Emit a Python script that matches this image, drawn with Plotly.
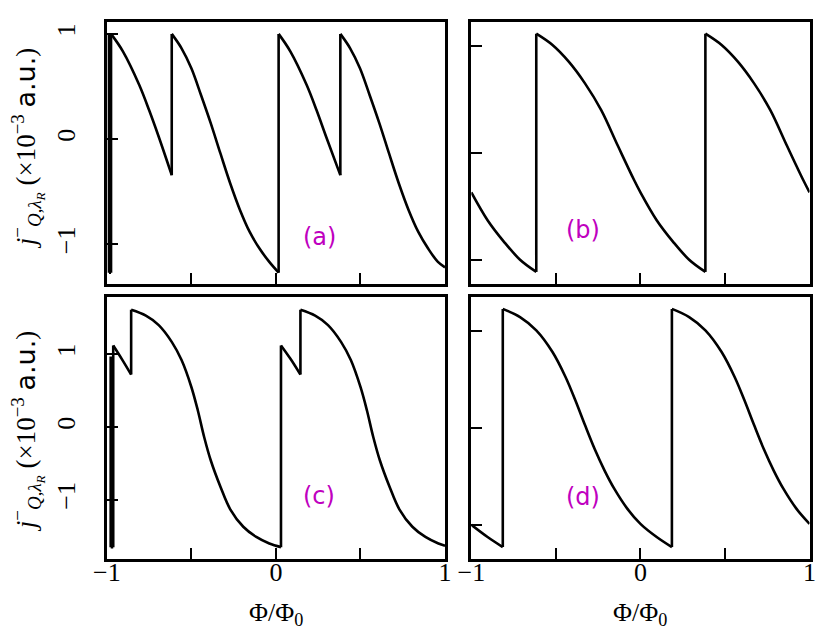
import plotly.graph_objects as go

# ---- data (None separates smooth runs) ----
# panel (a)
a_x = [-0.987, -0.987, None, -0.987, -0.975, None, -0.975, -0.975, None,
       -0.975, -0.904, -0.808, -0.750, -0.693, -0.616, None,
       -0.616, -0.616, None,
       -0.616, -0.558, -0.500, -0.443, -0.385, -0.328, -0.270, -0.212, -0.155, -0.097, -0.039, 0.016, None,
       0.016, 0.016, None,
       0.016, 0.086, 0.182, 0.240, 0.297, 0.381, None,
       0.381, 0.381, None,
       0.381, 0.439, 0.497, 0.554, 0.612, 0.669, 0.727, 0.785, 0.842, 0.900, 0.958, 1.0]
a_y = [0.99, -1.27, None, -1.27, -1.27, None, -1.27, 1.0, None,
       1.0, 0.832, 0.514, 0.276, 0.022, -0.343, None,
       -0.343, 1.0, None,
       1.0, 0.863, 0.673, 0.419, 0.149, -0.137, -0.422, -0.676, -0.883, -1.041, -1.168, -1.27, None,
       -1.27, 1.0, None,
       1.0, 0.832, 0.514, 0.276, 0.022, -0.343, None,
       -0.343, 1.0, None,
       1.0, 0.863, 0.673, 0.419, 0.149, -0.137, -0.422, -0.676, -0.883, -1.041, -1.168, -1.22]

# panel (b)
b_x = [-1.0, -0.904, -0.808, -0.712, -0.616, None,
       -0.616, -0.616, None,
       -0.616, -0.520, -0.424, -0.328, -0.232, -0.135, -0.039, 0.0, 0.096, 0.192, 0.288, 0.384, None,
       0.384, 0.384, None,
       0.384, 0.480, 0.576, 0.672, 0.768, 0.865, 0.961, 1.0]
b_y = [-0.37, -0.63, -0.83, -1.0, -1.114, None,
       -1.114, 1.114, None,
       1.114, 1.008, 0.852, 0.649, 0.399, 0.07, -0.25, -0.37, -0.63, -0.83, -1.0, -1.114, None,
       -1.114, 1.114, None,
       1.114, 1.008, 0.852, 0.649, 0.399, 0.07, -0.25, -0.37]

# panel (c)
c_x = [-0.977, -0.977, None, -0.977, -0.962, None, -0.962, -0.962, None,
       -0.962, -0.910, -0.856, None,
       -0.856, -0.856, None,
       -0.856, -0.769, -0.693, -0.616, -0.558, -0.500, -0.462, -0.424, -0.385, -0.328, -0.270, -0.193, -0.116, -0.039, 0.03, None,
       0.03, 0.03, None,
       0.03, 0.088, 0.145, None,
       0.145, 0.145, None,
       0.145, 0.232, 0.308, 0.385, 0.443, 0.500, 0.538, 0.576, 0.615, 0.672, 0.730, 0.807, 0.884, 0.961, 1.0]
c_y = [0.97, -1.65, None, -1.65, -1.65, None, -1.65, 1.12, None,
       1.12, 0.93, 0.72, None,
       0.72, 1.61, None,
       1.61, 1.53, 1.40, 1.17, 0.92, 0.55, 0.23, -0.14, -0.46, -0.82, -1.13, -1.37, -1.51, -1.60, -1.65, None,
       -1.65, 1.12, None,
       1.12, 0.93, 0.72, None,
       0.72, 1.61, None,
       1.61, 1.53, 1.40, 1.17, 0.92, 0.55, 0.23, -0.14, -0.46, -0.82, -1.13, -1.37, -1.51, -1.60, -1.63]

# panel (d)
d_x = [-1.0, -0.904, -0.814, None,
       -0.814, -0.814, None,
       -0.814, -0.712, -0.616, -0.520, -0.443, -0.385, -0.328, -0.270, -0.212, -0.155, -0.078, 0.0, 0.096, 0.186, None,
       0.186, 0.186, None,
       0.186, 0.288, 0.384, 0.480, 0.557, 0.615, 0.672, 0.730, 0.788, 0.845, 0.922, 1.0]
d_y = [-1.0, -1.126, -1.23, None,
       -1.23, 1.23, None,
       1.23, 1.146, 1.009, 0.785, 0.527, 0.286, 0.03, -0.22, -0.44, -0.627, -0.833, -0.99, -1.126, -1.23, None,
       -1.23, 1.23, None,
       1.23, 1.146, 1.009, 0.785, 0.527, 0.286, 0.03, -0.22, -0.44, -0.627, -0.833, -0.99]

panel_labels = ["(a)", "(b)", "(c)", "(d)"]
label_pos = [(0.256, -0.93), (-0.337, -0.72), (0.256, -0.945), (-0.337, -0.717)]
y_ranges = [[-1.378, 1.113], [-1.227, 1.223], [-1.813, 1.786], [-1.353, 1.353]]

x_ticks = [-1, -0.5, 0, 0.5, 1]
x_ticktext = ["\u22121", "", "0", "", "1"]
y_ticks = [-1, 0, 1]
y_ticktext = ["\u22121", "0", "1"]

W, H = 830, 638
col_px = [(87, 434), (461, 808)]
row_px = [(14, 276), (289, 551)]

serif = "Liberation Serif"
fig = go.Figure()

data = [(a_x, a_y), (b_x, b_y), (c_x, c_y), (d_x, d_y)]
for i, (xs, ys) in enumerate(data):
    n = "" if i == 0 else str(i + 1)
    fig.add_trace(go.Scatter(
        x=xs, y=ys, mode="lines",
        line=dict(color="black", width=2.6, shape="spline", smoothing=1.0),
        connectgaps=False, showlegend=False,
        xaxis="x" + n, yaxis="y" + n,
    ))

layout = {}
for i in range(4):
    r, c = divmod(i, 2)
    n = "" if i == 0 else str(i + 1)
    x0, x1 = col_px[c]
    y0, y1 = row_px[r]
    common = dict(showline=True, linewidth=2.6, linecolor="black", mirror=True,
                  ticks="inside", ticklen=11, tickwidth=2, tickcolor="black",
                  showgrid=False, zeroline=False,
                  tickfont=dict(family=serif, size=26, color="black"))
    layout["xaxis" + n] = dict(common, domain=[x0 / W, x1 / W], range=[-1, 1],
                               anchor="y" + n, tickvals=x_ticks, ticktext=x_ticktext,
                               showticklabels=(r == 1), ticklabelstandoff=-12)
    layout["yaxis" + n] = dict(common, domain=[1 - y1 / H, 1 - y0 / H], range=y_ranges[i],
                               anchor="x" + n, tickvals=y_ticks, ticktext=y_ticktext,
                               showticklabels=(c == 0), tickangle=-90,
                               ticklabelstandoff=19)

annotations = []
for i in range(4):
    n = "" if i == 0 else str(i + 1)
    annotations.append(dict(x=label_pos[i][0], y=label_pos[i][1], xref="x" + n, yref="y" + n,
                            text=panel_labels[i], showarrow=False,
                            xanchor="center", yanchor="middle",
                            font=dict(family="DejaVu Sans", size=24, color="#BF00BF")))

ytitle = ("<i>j</i><sup>\u2212</sup><sub><i>Q</i>,<i>\u03bb<sub>R</sub></i></sub>"
          " (\u00d710<sup>\u22123</sup> <span style='font-family:DejaVu Sans'>a.u.</span>)")
for yc in [140, 423]:
    annotations.append(dict(x=33 / W, y=1 - yc / H, xref="paper", yref="paper",
                            text=ytitle, textangle=-90, showarrow=False,
                            xanchor="center", yanchor="middle", xshift=-27,
                            font=dict(family=serif, size=27, color="black")))
for xc in [260.5, 634.5]:
    annotations.append(dict(x=xc / W, y=1 - 606 / H, xref="paper", yref="paper",
                            text="\u03a6/\u03a6<sub>0</sub>", showarrow=False,
                            xanchor="center", yanchor="middle",
                            font=dict(family=serif, size=26, color="black")))

fig.update_layout(width=W, height=H, margin=dict(l=0, r=0, t=0, b=0),
                  plot_bgcolor="white", paper_bgcolor="white",
                  annotations=annotations, **layout)

fig.write_html("out.html")
